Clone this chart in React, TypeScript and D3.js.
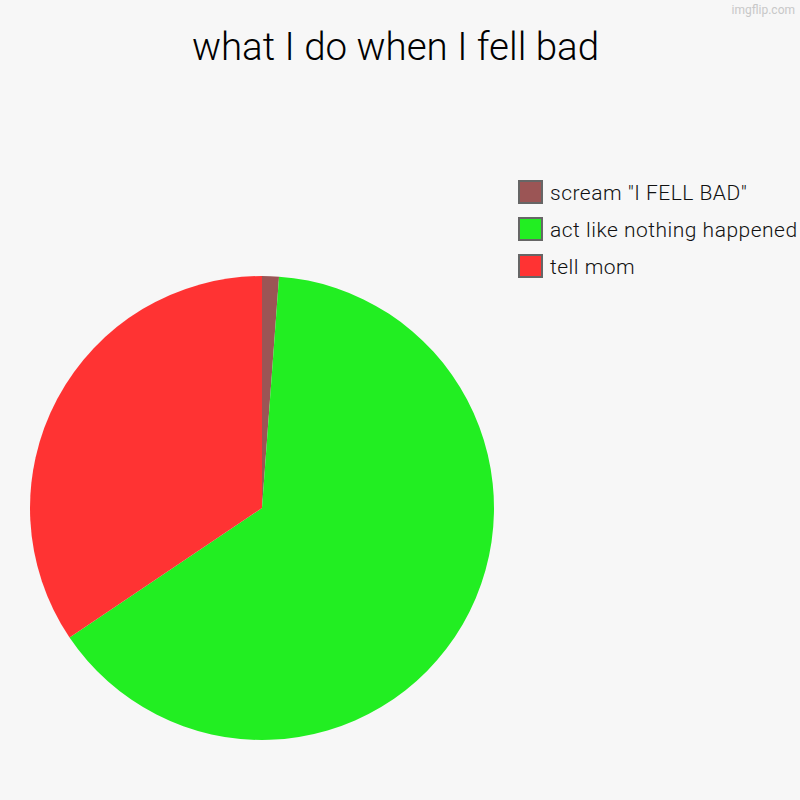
import React from "react";
import * as d3 from "d3";

const categories = ['scream "I FELL BAD"', "act like nothing happened", "tell mom"];
const values = [1.17, 64.4, 34.43];
const colors = ["#9b5555", "#22ee22", "#ff3333"];
const title = "what I do when I fell bad";

export default function App() {
  const W = 800, H = 800;
  const cx = 262, cy = 508, r = 232;
  const pie = d3.pie<number>().sort(null).value((d) => d)(values);
  const arc = d3.arc<d3.PieArcDatum<number>>().innerRadius(0).outerRadius(r);
  return (
    <svg width={W} height={H} style={{ position: "absolute", left: 0, top: 0, background: "#f7f7f7" }}
      fontFamily="Roboto, sans-serif">
      <rect width={W} height={H} fill="#f7f7f7" />
      <text x={795} y={14} textAnchor="end" fontSize={12} fill="#c8c8c8">imgflip.com</text>
      <text x={395.5} y={60} textAnchor="middle" fontSize={38.5} fontWeight={300} fill="#000">{title}</text>
      <g transform={`translate(${cx},${cy})`}>
        {pie.map((p, i) => (
          <path key={i} d={arc(p) || ""} fill={colors[i]} />
        ))}
      </g>
      {categories.map((c, i) => (
        <g key={c} transform={`translate(519,${181 + i * 37})`}>
          <rect x={0} y={0} width={23} height={22} fill={colors[i]} stroke="#666" strokeWidth={2} />
          <text x={31} y={19} fontSize={21} letterSpacing={0.5} fontWeight={300} fill="#111">{c}</text>
        </g>
      ))}
    </svg>
  );
}
